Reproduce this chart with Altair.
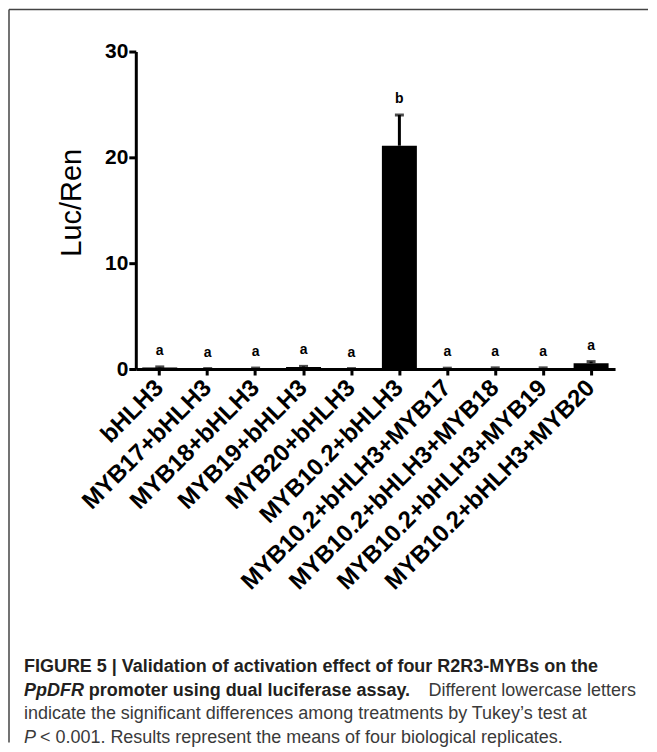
import altair as alt
import pandas as pd

categories = ["bHLH3", "MYB17+bHLH3", "MYB18+bHLH3", "MYB19+bHLH3", "MYB20+bHLH3",
              "MYB10.2+bHLH3", "MYB10.2+bHLH3+MYB17", "MYB10.2+bHLH3+MYB18",
              "MYB10.2+bHLH3+MYB19", "MYB10.2+bHLH3+MYB20"]
means = [0.15, 0.02, 0.06, 0.2, 0.02, 21.1, 0.05, 0.08, 0.08, 0.55]
errors = [0.05, 0.02, 0.03, 0.05, 0.02, 2.9, 0.03, 0.03, 0.03, 0.15]
letters = ["a", "a", "a", "a", "a", "b", "a", "a", "a", "a"]
y_ticks = [0, 10, 20, 30]

caption_bold = ["FIGURE 5 | Validation of activation effect of four R2R3-MYBs on the"]
caption_bold_italic = ["PpDFR"]
caption_bold2 = ["promoter using dual luciferase assay."]
caption_regular_r = ["Different lowercase letters"]
caption_regular = ["indicate the significant differences among treatments by Tukey\u2019s test at"]
caption_italic = ["P"]
caption_regular2 = ["< 0.001. Results represent the means of four biological replicates."]

df = pd.DataFrame({"cat": categories, "mean": means, "err": errors, "letter": letters})
df["top"] = df["mean"] + df["err"]

FONT = "Liberation Sans"
W, H = 480, 318
OX, OY = 135, 50  # page position of plot origin (approx.)

x_enc = alt.X("cat:N", sort=categories, title=None,
              scale=alt.Scale(paddingInner=0.27, paddingOuter=0.135),
              axis=alt.Axis(labelAngle=-45, labelAlign="right", labelBaseline="middle",
                            labelFont=FONT, labelFontWeight="bold", labelFontSize=24,
                            labelColor="black", labelPadding=9, labelOverlap=False,
                            labelLimit=0,
                            domainColor="black", domainWidth=3, tickColor="black",
                            tickWidth=3, tickSize=6))
y_scale = alt.Scale(domain=[0, 30], nice=False)

bars = alt.Chart(df).mark_bar(color="black").encode(
    x=x_enc,
    y=alt.Y("mean:Q", scale=y_scale, title="Luc/Ren",
            axis=alt.Axis(values=y_ticks, grid=False, labelFont=FONT, labelFontWeight="bold",
                          labelFontSize=21, labelColor="black", labelPadding=1,
                          domainColor="black", domainWidth=3, tickColor="black",
                          tickWidth=3, tickSize=7, titleFont=FONT, titleFontSize=29,
                          titleFontWeight="normal", titleColor="black", titlePadding=18,
                          titleY=151)),
)
stems = alt.Chart(df).mark_rule(color="black", strokeWidth=3).encode(
    x=alt.X("cat:N", sort=categories), y=alt.Y("mean:Q", scale=y_scale), y2="top:Q")
caps = alt.Chart(df).mark_tick(color="black", size=9, thickness=3, orient="horizontal").encode(
    x=alt.X("cat:N", sort=categories), y=alt.Y("top:Q", scale=y_scale))
labels = alt.Chart(df).mark_text(font=FONT, fontWeight="bold", fontSize=14, baseline="bottom",
                                 dy=-9, color="black").encode(
    x=alt.X("cat:N", sort=categories), y=alt.Y("top:Q", scale=y_scale), text="letter:N")

# frame around figure (left and top edges)
frame_top = alt.Chart(pd.DataFrame({"a": [0]})).mark_rule(color="#444", strokeWidth=1.5).encode(
    x=alt.value(8 - OX), x2=alt.value(648 - OX), y=alt.value(8 - OY), y2=alt.value(8 - OY))
frame_left = alt.Chart(pd.DataFrame({"a": [0]})).mark_rule(color="#444", strokeWidth=1.5).encode(
    x=alt.value(8 - OX), x2=alt.value(8 - OX), y=alt.value(8 - OY), y2=alt.value(742 - OY))


def cap_text(texts, xs, ys, weight, style, color, align="left"):
    d = pd.DataFrame({"t": texts, "px": [x - OX for x in xs], "py": [y - OY for y in ys]})
    return alt.Chart(d).mark_text(font=FONT, fontSize=18, fontWeight=weight, fontStyle=style,
                                  align=align, baseline="alphabetic", color=color).encode(
        x=alt.X("px:Q", scale=None), y=alt.Y("py:Q", scale=None), text="t:N")


c1 = cap_text(caption_bold, [23], [671], "bold", "normal", "#231f20")
c2 = cap_text(caption_bold_italic, [23], [695], "bold", "italic", "#231f20")
c3 = cap_text(caption_bold2, [88], [695], "bold", "normal", "#231f20")
c4 = cap_text(caption_regular_r, [636], [695], "normal", "normal", "#3a3a3a", align="right")
c4b = cap_text(caption_regular, [23], [719], "normal", "normal", "#3a3a3a")
c5 = cap_text(caption_italic, [23], [743], "normal", "italic", "#3a3a3a")
c6 = cap_text(caption_regular2, [39], [743], "normal", "normal", "#3a3a3a")

chart = alt.layer(frame_top, frame_left, bars, stems, caps, labels,
                  c1, c2, c3, c4, c4b, c5, c6).properties(
    width=W, height=H, padding=0
).configure_view(stroke=None).configure_axis(grid=False)

chart.save("out.html", embed_options={"renderer": "svg", "actions": False})
